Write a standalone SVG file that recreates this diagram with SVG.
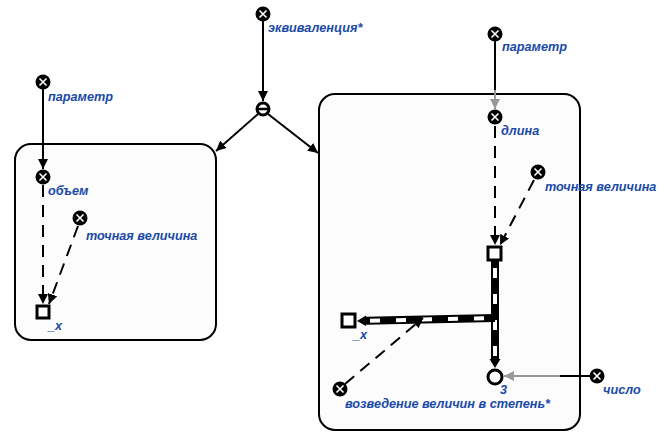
<svg xmlns="http://www.w3.org/2000/svg" width="667" height="447" viewBox="0 0 667 447">
<defs>
<style>
.box{fill:#fcfcfc;stroke:#000;stroke-width:2}
.lbl{font-family:"Liberation Sans",Arial,sans-serif;font-size:12.7px;font-weight:bold;font-style:italic;fill:#1a4aa8}
.solid{stroke:#000;stroke-width:2;fill:none}
.gray{stroke:#999;stroke-width:2;fill:none}
.dash{stroke:#000;stroke-width:2;fill:none;stroke-dasharray:12,8}
.thick{stroke:#000;stroke-width:8;fill:none}
.stripe{stroke:#fff;stroke-width:4;fill:none;stroke-dasharray:10,16}
.sq{fill:#fff;stroke:#000;stroke-width:3}
.ring{fill:#fff;stroke:#000;stroke-width:3}
</style>
<marker id="ab" viewBox="0 0 10 10" refX="10" refY="5" markerWidth="5" markerHeight="5" orient="auto" markerUnits="strokeWidth"><path d="M0,0L10,5L0,10z" fill="#000"/></marker>
<marker id="ag" viewBox="0 0 10 10" refX="10" refY="5" markerWidth="5" markerHeight="5" orient="auto" markerUnits="strokeWidth"><path d="M0,0L10,5L0,10z" fill="#999"/></marker>
<g id="var"><circle r="7.5" fill="#000"/><path d="M-3.5,-3.5L3.5,3.5M3.5,-3.5L-3.5,3.5" stroke="#fff" stroke-width="1.6"/></g>
</defs>

<g id="box-left"><rect class="box" x="15" y="144" width="201" height="196" rx="16"/></g>
<g id="box-right"><rect class="box" x="319" y="94" width="261" height="336" rx="16"/></g>

<g id="connectors">
<line class="solid" x1="263" y1="21" x2="263" y2="101" marker-end="url(#ab)"/>
<line class="solid" x1="258" y1="114" x2="216" y2="151" marker-end="url(#ab)"/>
<line class="solid" x1="268" y1="114" x2="318" y2="153" marker-end="url(#ab)"/>
<line class="solid" x1="43" y1="89" x2="43" y2="169" marker-end="url(#ab)"/>
<line class="dash" x1="43" y1="185" x2="43" y2="304" marker-end="url(#ab)"/>
<line class="dash" x1="78" y1="226" x2="49" y2="304" marker-end="url(#ab)"/>
<line class="solid" x1="495" y1="41" x2="495" y2="90"/>
<line class="gray" x1="495" y1="90" x2="495" y2="109" marker-end="url(#ag)"/>
<line class="dash" x1="495" y1="126" x2="495" y2="245" marker-end="url(#ab)"/>
<line class="dash" x1="534" y1="180" x2="500" y2="245" marker-end="url(#ab)"/>
<line class="thick" x1="495" y1="261" x2="495" y2="360"/>
<line class="stripe" x1="495" y1="268" x2="495" y2="358"/>
<path d="M489.5,359L500.5,359L495,368z" fill="#000"/>
<line class="thick" x1="495" y1="318" x2="366" y2="320.8"/>
<line class="stripe" x1="484" y1="318.2" x2="370" y2="320.7"/>
<path d="M366,315.5L366,326L357,321z" fill="#000"/>
<line class="dash" x1="345" y1="384" x2="423" y2="318" marker-end="url(#ab)"/>
<line class="solid" x1="590" y1="376" x2="560" y2="376"/>
<line class="gray" x1="560" y1="376" x2="504" y2="376" marker-end="url(#ag)"/>
</g>

<g id="n-equiv"><use href="#var" x="263" y="14"/><text class="lbl" x="268" y="32">эквиваленция*</text></g>
<g id="n-bond"><circle class="ring" cx="263" cy="109" r="6"/><line x1="258" y1="109" x2="268" y2="109" stroke="#000" stroke-width="2.5"/></g>
<g id="n-param-l"><use href="#var" x="43" y="82"/><text class="lbl" x="48" y="101">параметр</text></g>
<g id="n-volume"><use href="#var" x="43" y="177"/><text class="lbl" x="48" y="195">объем</text></g>
<g id="n-exact-l"><use href="#var" x="80" y="218"/><text class="lbl" x="86" y="240">точная величина</text></g>
<g id="n-x-l"><rect class="sq" x="37" y="306" width="12" height="12"/><text class="lbl" x="48" y="330">_x</text></g>
<g id="n-param-r"><use href="#var" x="495" y="34"/><text class="lbl" x="502" y="51">параметр</text></g>
<g id="n-length"><use href="#var" x="495" y="117"/><text class="lbl" x="501" y="135">длина</text></g>
<g id="n-exact-r"><use href="#var" x="538" y="172"/><text class="lbl" x="545" y="191">точная величина</text></g>
<g id="n-sq-r"><rect class="sq" x="488" y="247" width="13" height="13"/></g>
<g id="n-x-r"><rect class="sq" x="342" y="314" width="13" height="13"/><text class="lbl" x="353" y="339">_x</text></g>
<g id="n-three"><circle class="ring" cx="495" cy="377" r="7"/><text class="lbl" x="500" y="394">3</text></g>
<g id="n-number"><use href="#var" x="597" y="376"/><text class="lbl" x="603" y="394">число</text></g>
<g id="n-power"><use href="#var" x="340" y="389"/><text class="lbl" x="345" y="408">возведение величин в степень*</text></g>
</svg>
